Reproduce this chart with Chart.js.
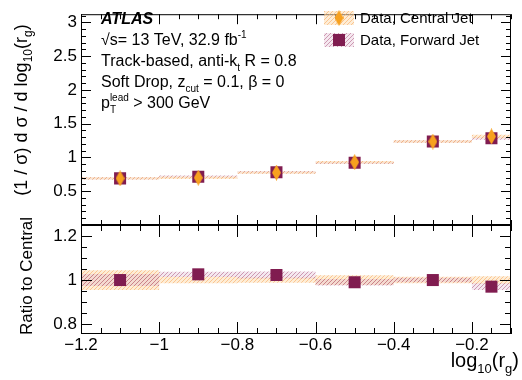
<!DOCTYPE html>
<html>
<head>
<meta charset="UTF-8">
<title>rg ratio</title>
<script src="https://cdn.jsdelivr.net/npm/chart.js@4"></script>
<style>
  body { margin: 0; background: #fff; }
  #wrap { position: relative; width: 522px; height: 380px; }
  #wrap canvas { position: absolute; left: 0; top: 0; }
</style>
</head>
<body>
<div id="wrap">
  <canvas id="topChart" width="522" height="380"></canvas>
  <canvas id="ratioChart" width="522" height="380"></canvas>
</div>
<script>
// data
const binEdges = [-1.2, -1.0, -0.8, -0.6, -0.4, -0.2, -0.1];
const binCenters = [-1.1, -0.9, -0.7, -0.5, -0.3, -0.15];
const centralVals = [0.69, 0.70, 0.775, 0.93, 1.235, 1.31];
const centralErr = [0.018, 0.018, 0.018, 0.018, 0.018, 0.025];
const forwardVals = [0.69, 0.715, 0.78, 0.92, 1.235, 1.285];
const forwardErr = [0.018, 0.018, 0.018, 0.018, 0.018, 0.022];
const ratioVals = [1.0, 1.026, 1.023, 0.99, 1.0, 0.97];
const ratioCentralErr = [0.045, 0.015, 0.012, 0.022, 0.015, 0.017];
const ratioForwardErr = [0.027, 0.012, 0.016, 0.015, 0.01, 0.015];
const xTicks = [-1.2, -1.0, -0.8, -0.6, -0.4, -0.2];
const yTicksTop = [0.5, 1, 1.5, 2, 2.5, 3];
const yTicksRatio = [0.8, 1, 1.2];

const FONT = "'Liberation Sans', Arial, sans-serif";
const orange = '#f7a11f';
const maroon = '#801c50';

function hatch(fg, bg) {
  const c = document.createElement('canvas');
  c.width = 4; c.height = 4;
  const g = c.getContext('2d');
  if (bg) { g.fillStyle = bg; g.fillRect(0, 0, 4, 4); }
  g.fillStyle = fg;
  for (let i = 0; i < 4; i++) g.fillRect(i, 3 - i, 1, 1);
  return g.createPattern(c, 'repeat');
}
const orangeHatch = hatch('rgba(248,170,100,0.6)', 'rgba(253,222,180,0.55)');
const purpleHatch = hatch('rgba(165,75,120,0.5)', 'rgba(215,165,190,0.25)');

const diamond = (() => {
  const c = document.createElement('canvas');
  c.width = 9; c.height = 16;
  const g = c.getContext('2d');
  g.fillStyle = orange;
  g.beginPath();
  g.moveTo(4.5, 0); g.lineTo(9, 8); g.lineTo(4.5, 16); g.lineTo(0, 8);
  g.closePath(); g.fill();
  return c;
})();

const fmt = v => String(Math.round(v * 100) / 100).replace('-', '\u2212');

function stepLine(vals, errs, sign) {
  return binEdges.map((x, i) => {
    const k = Math.min(i, vals.length - 1);
    return { x: x, y: vals[k] + sign * errs[k] };
  });
}
function band(vals, errs, pattern, order) {
  return [
    { type: 'line', data: stepLine(vals, errs, -1), stepped: true, borderColor: 'transparent',
      borderWidth: 0, pointRadius: 0, fill: false, order: order },
    { type: 'line', data: stepLine(vals, errs, 1), stepped: true, borderColor: 'transparent',
      borderWidth: 0, pointRadius: 0, fill: '-1', backgroundColor: pattern, order: order }
  ];
}
const pts = vals => binCenters.map((x, i) => ({ x: x, y: vals[i] }));

// text with sub/superscripts
function runsWidth(ctx, runs, size) {
  let w = 0, stackW = 0;
  runs.forEach(r => {
    ctx.font = (r.s ? Math.round(size * 0.65) : size) + 'px ' + FONT;
    const rw = ctx.measureText(r.t).width;
    if (r.stack) { stackW = rw; return; }
    w += Math.max(rw, stackW); stackW = 0;
  });
  return w;
}
function drawRuns(ctx, runs, x, y, size) {
  let cx = x, stackW = 0;
  runs.forEach(r => {
    const fs = r.s ? Math.round(size * 0.65) : size;
    ctx.font = (r.bold || '') + fs + 'px ' + FONT;
    const dy = r.s === 'sub' ? size * 0.3 : r.s === 'sup' ? -size * 0.42 : 0;
    ctx.fillText(r.t, cx, y + dy);
    const rw = ctx.measureText(r.t).width;
    if (r.stack) { stackW = rw; return; }
    cx += Math.max(rw, stackW); stackW = 0;
  });
}

function frameTicks(chart, yMajor, yStep, xLen, yLen) {
  const { ctx, chartArea: a, scales: { x, y } } = chart;
  ctx.save();
  ctx.strokeStyle = '#000';
  ctx.lineWidth = 1;
  ctx.strokeRect(a.left + 0.5, a.top + 0.5, a.right - a.left - 1, a.bottom - a.top - 1);
  ctx.beginPath();
  const hy = (v, len) => {
    const py = Math.round(y.getPixelForValue(v)) + 0.5;
    ctx.moveTo(a.left, py); ctx.lineTo(a.left + len, py);
    ctx.moveTo(a.right, py); ctx.lineTo(a.right - len, py);
  };
  const vx = (v, len) => {
    const px = Math.round(x.getPixelForValue(v)) + 0.5;
    ctx.moveTo(px, a.bottom); ctx.lineTo(px, a.bottom - len);
    ctx.moveTo(px, a.top); ctx.lineTo(px, a.top + len);
  };
  for (let k = Math.ceil(y.min / yStep); k * yStep <= y.max; k++) {
    const v = k * yStep;
    const major = yMajor.some(m => Math.abs(m - v) < 1e-6);
    hy(v, major ? yLen[0] : yLen[1]);
  }
  for (let k = Math.ceil(x.min / 0.05 - 1e-6); k * 0.05 <= x.max + 1e-6; k++) {
    const v = k * 0.05;
    const major = xTicks.some(m => Math.abs(m - v) < 1e-6);
    vx(v, major ? xLen[0] : xLen[1]);
  }
  ctx.stroke();
  ctx.restore();
}

const baseX = {
  type: 'linear', min: -1.2, max: -0.1,
  grid: { display: false, drawTicks: false }, border: { display: false },
  afterBuildTicks: s => { s.ticks = xTicks.map(v => ({ value: v })); },
  ticks: { font: { family: FONT, size: 17 }, color: '#000', padding: 1, maxRotation: 0, callback: v => fmt(v) }
};

// top panel
new Chart(document.getElementById('topChart'), {
  type: 'scatter',
  data: {
    datasets: [
      { type: 'line', showLine: false, data: pts(centralVals), pointStyle: diamond, order: 0 },
      { type: 'line', showLine: false, data: pts(forwardVals), pointStyle: 'rect', pointRadius: 8.5,
        backgroundColor: maroon, borderColor: maroon, borderWidth: 0, order: 1 },
      ...band(forwardVals, forwardErr, purpleHatch, 3),
      ...band(centralVals, centralErr, orangeHatch, 2)
    ]
  },
  options: {
    responsive: false, animation: false,
    layout: { padding: { top: 5, right: 11, bottom: 155, left: 0 } },
    plugins: { legend: { display: false }, tooltip: { enabled: false } },
    scales: {
      x: Object.assign({}, baseX, { display: false }),
      y: {
        min: 0, max: 3.12,
        grid: { display: false, drawTicks: false }, border: { display: false },
        afterBuildTicks: s => { s.ticks = yTicksTop.map(v => ({ value: v })); },
        afterFit: s => { s.width = 81; },
        ticks: { font: { family: FONT, size: 17 }, color: '#000', padding: 4, callback: v => fmt(v) }
      }
    }
  },
  plugins: [{
    id: 'topDeco',
    afterDraw(chart) {
      frameTicks(chart, yTicksTop, 0.1, [10, 5], [10, 5]);
      const ctx = chart.ctx;
      ctx.save();
      ctx.fillStyle = '#000';
      ctx.textBaseline = 'alphabetic';
      ctx.textAlign = 'left';
      drawRuns(ctx, [{ t: 'ATLAS', bold: 'italic bold ' }], 101, 24, 16);
      drawRuns(ctx, [{ t: '\u221As= 13 TeV, 32.9 fb' }, { t: '-1', s: 'sup' }], 101, 45, 16);
      drawRuns(ctx, [{ t: 'Track-based, anti-k' }, { t: 't', s: 'sub' }, { t: ' R = 0.8' }], 101, 66, 16);
      drawRuns(ctx, [{ t: 'Soft Drop, z' }, { t: 'cut', s: 'sub' }, { t: ' = 0.1, \u03B2 = 0' }], 101, 87, 16);
      drawRuns(ctx, [{ t: 'p' }, { t: 'lead', s: 'sup', stack: true }, { t: 'T', s: 'sub' }, { t: ' > 300 GeV' }], 101, 108, 16);

      // legend
      const rows = [['Data, Central Jet', orangeHatch, 18], ['Data, Forward Jet', purpleHatch, 40]];
      rows.forEach((r, i) => {
        ctx.fillStyle = r[1];
        ctx.fillRect(324, r[2] - 7, 30, 14);
        if (i === 0) ctx.drawImage(diamond, 339 - 4.5, r[2] - 8);
        else { ctx.fillStyle = maroon; ctx.fillRect(333, r[2] - 6, 12, 12); }
        ctx.fillStyle = '#000';
        drawRuns(ctx, [{ t: r[0] }], 360, r[2] + 5, 15);
      });

      // y title
      const runs = [{ t: '(1 / \u03C3) d \u03C3 / d log' }, { t: '10', s: 'sub' }, { t: '(r' }, { t: 'g', s: 'sub' }, { t: ')' }];
      const w = runsWidth(ctx, runs, 18);
      ctx.translate(27, 110);
      ctx.rotate(-Math.PI / 2);
      drawRuns(ctx, runs, -w / 2, 0, 18);
      ctx.restore();
    }
  }]
});

// ratio panel
new Chart(document.getElementById('ratioChart'), {
  type: 'scatter',
  data: {
    datasets: [
      { type: 'line', showLine: false, data: pts(ratioVals), pointStyle: 'rect', pointRadius: 8.5,
        backgroundColor: maroon, borderColor: maroon, borderWidth: 0, order: 0 },
      ...band(ratioVals, ratioForwardErr, purpleHatch, 2),
      ...band(ratioVals.map(() => 1), ratioCentralErr, orangeHatch, 3)
    ]
  },
  options: {
    responsive: false, animation: false,
    layout: { padding: { top: 225, right: 11, bottom: 0, left: 0 } },
    plugins: { legend: { display: false }, tooltip: { enabled: false } },
    scales: {
      x: Object.assign({}, baseX, { afterFit: s => { s.height = 46; } }),
      y: {
        min: 0.755, max: 1.25,
        grid: { display: false, drawTicks: false }, border: { display: false },
        afterBuildTicks: s => { s.ticks = yTicksRatio.map(v => ({ value: v })); },
        afterFit: s => { s.width = 81; },
        ticks: { font: { family: FONT, size: 17 }, color: '#000', padding: 4, callback: v => fmt(v) }
      }
    }
  },
  plugins: [{
    id: 'ratioDeco',
    afterDraw(chart) {
      frameTicks(chart, yTicksRatio, 0.05, [12, 6], [11, 6]);
      const ctx = chart.ctx;
      ctx.save();
      ctx.fillStyle = '#000';
      ctx.textAlign = 'left';
      ctx.textBaseline = 'alphabetic';
      const xr = [{ t: 'log' }, { t: '10', s: 'sub' }, { t: '(r' }, { t: 'g', s: 'sub' }, { t: ')' }];
      const xw = runsWidth(ctx, xr, 20);
      drawRuns(ctx, xr, 519 - xw, 367, 20);
      const yr = [{ t: 'Ratio to Central' }];
      const yw = runsWidth(ctx, yr, 17);
      ctx.translate(32, 276);
      ctx.rotate(-Math.PI / 2);
      drawRuns(ctx, yr, -yw / 2, 0, 17);
      ctx.restore();
    }
  }]
});
</script>
</body>
</html>
